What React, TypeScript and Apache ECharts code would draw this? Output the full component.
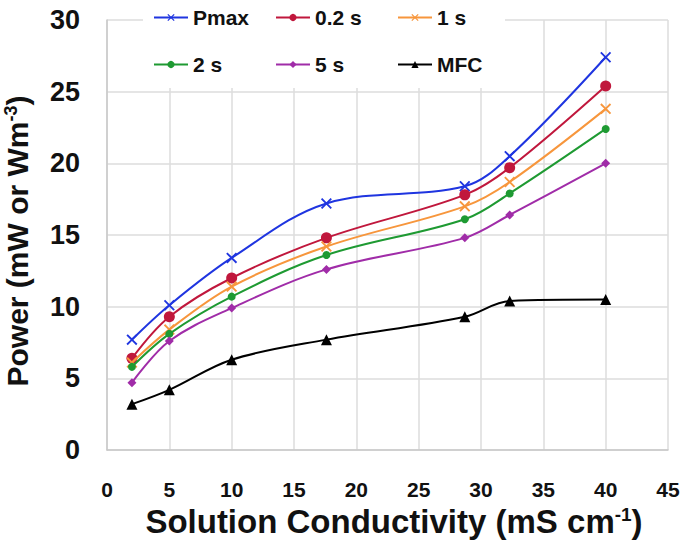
import React, { useEffect, useRef } from "react";
import * as echarts from "echarts";

const conductivity = [2, 5, 10, 17.6, 28.7, 32.3, 40];
const pmax = [7.7, 10.1, 13.4, 17.2, 18.4, 20.5, 27.4];
const s02 = [6.4, 9.3, 12.0, 14.8, 17.8, 19.7, 25.4];
const s1 = [6.1, 8.4, 11.4, 14.2, 17.0, 18.7, 23.8];
const s2 = [5.8, 8.1, 10.7, 13.6, 16.1, 17.9, 22.4];
const s5 = [4.7, 7.6, 9.9, 12.6, 14.8, 16.4, 20.0];
const mfc = [3.2, 4.2, 6.3, 7.7, 9.3, 10.4, 10.5];

const seriesNames = ["Pmax", "0.2 s", "1 s", "2 s", "5 s", "MFC"];
const seriesValues = [pmax, s02, s1, s2, s5, mfc];
const seriesColors = ["#1f35e0", "#c0173c", "#f7963c", "#1e9a32", "#a02ca8", "#000000"];

const X_PATH =
  "path://M0,1.2 L1.2,0 L5,3.8 L8.8,0 L10,1.2 L6.2,5 L10,8.8 L8.8,10 L5,6.2 L1.2,10 L0,8.8 L3.8,5 Z";
const seriesSymbols = [X_PATH, "circle", X_PATH, "circle", "diamond", "triangle"];
const seriesSymbolSizes = [11, 11, 11, 8, 9, 11];

const legendPos = [
  [153, 7],
  [275, 7],
  [397, 7],
  [153, 54],
  [275, 54],
  [397, 54],
];

const FONT = "'Liberation Sans', Arial, sans-serif";

export default function App() {
  const ref = useRef<HTMLDivElement>(null);
  useEffect(() => {
    if (!ref.current) return;
    const chart = echarts.init(ref.current, null, { renderer: "svg" });
    const series = seriesNames.map((name, i) => ({
      name,
      type: "line",
      smooth: 0.35,
      data: conductivity.map((x, j) => [x, seriesValues[i][j]]),
      symbol: seriesSymbols[i],
      symbolSize: seriesSymbolSizes[i],
      showAllSymbol: true,
      lineStyle: { color: seriesColors[i], width: 2 },
      itemStyle: { color: seriesColors[i], borderWidth: 0 },
      z: 2 + i,
    }));
    const legends = seriesNames.map((name, i) => ({
      show: true,
      left: legendPos[i][0],
      top: legendPos[i][1],
      padding: 0,
      itemWidth: 34,
      itemHeight: 9,
      z: 10,
      data: [name],
      selectedMode: false,
      textStyle: { fontSize: 21, fontWeight: "bold", color: "#111", fontFamily: FONT },
    }));
    chart.setOption({
      animation: false,
      backgroundColor: "#ffffff",
      textStyle: { fontFamily: FONT },
      grid: {
        left: 107,
        right: 17,
        top: 20,
        bottom: 100,
        containLabel: false,
        outerBoundsMode: "none",
      },
      legend: legends,
      graphic: [
        {
          type: "rect",
          z: 5,
          shape: { x: 143, y: 0, width: 362, height: 88 },
          style: { fill: "#ffffff" },
        },
      ],
      xAxis: {
        type: "value",
        min: 0,
        max: 45,
        interval: 5,
        name: "{a|Solution Conductivity (mS cm}{sup|-1}{a|)}",
        nameLocation: "middle",
        nameGap: 55,
        nameTextStyle: {
          padding: [0, 0, 0, 13],
          rich: {
            a: { fontSize: 33, fontWeight: "bold", color: "#111", fontFamily: FONT },
            sup: { fontSize: 19, fontWeight: "bold", color: "#111", fontFamily: FONT, verticalAlign: "top" },
          },
        },
        axisLine: { show: true, lineStyle: { color: "#c8c8c8", width: 1.5 } },
        axisTick: { show: false },
        axisLabel: { margin: 29, fontSize: 21, fontWeight: "bold", color: "#111", fontFamily: FONT },
        splitLine: { show: true, lineStyle: { color: "#dcdcdc", width: 1.5 } },
      },
      yAxis: {
        type: "value",
        min: 0,
        max: 30,
        interval: 5,
        name: "{a|Power (mW or Wm}{sup|-3}{a|)}",
        nameLocation: "middle",
        nameGap: 75,
        nameTextStyle: {
          padding: [0, 12, 0, 0],
          rich: {
            a: { fontSize: 30, fontWeight: "bold", color: "#111", fontFamily: FONT },
            sup: { fontSize: 18, fontWeight: "bold", color: "#111", fontFamily: FONT, verticalAlign: "top" },
          },
        },
        axisLine: { show: true, lineStyle: { color: "#c8c8c8", width: 1.5 } },
        axisTick: { show: false },
        axisLabel: { margin: 27, fontSize: 27, fontWeight: "bold", color: "#111", fontFamily: FONT },
        splitLine: { show: true, lineStyle: { color: "#dcdcdc", width: 1.5 } },
      },
      series,
    });
    return () => chart.dispose();
  }, []);
  return (
    <div
      ref={ref}
      style={{ position: "fixed", left: 0, top: 0, width: 685, height: 550 }}
    />
  );
}
